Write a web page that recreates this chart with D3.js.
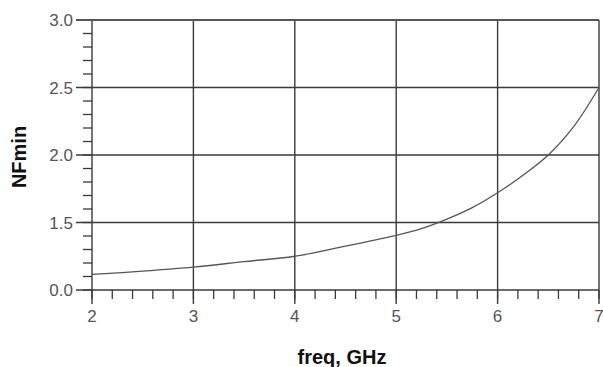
<!DOCTYPE html>
<html>
<head>
<meta charset="utf-8">
<script src="https://cdn.jsdelivr.net/npm/d3@7"></script>
<style>
  body { margin: 0; background: #fff; }
  text { font-family: "Liberation Sans", Arial, sans-serif; }
</style>
</head>
<body>
<div id="chart"></div>
<script>
// curve
var freq = [2, 2.5, 3, 3.5, 4, 4.5, 5, 5.25, 5.5, 5.75, 6, 6.25, 6.5, 6.75, 7];
var nfmin = [1.115, 1.14, 1.17, 1.21, 1.25, 1.325, 1.405, 1.455, 1.525, 1.61, 1.72, 1.85, 2.0, 2.21, 2.5];

var xTicks = [2, 3, 4, 5, 6, 7];
var yTicks = [1.0, 1.5, 2.0, 2.5, 3.0];
var yTickLabels = ["0.0", "1.5", "2.0", "2.5", "3.0"];

var width = 603;
var height = 367;
var margin = { top: 20, right: 4, bottom: 77, left: 92 };

var x = d3.scaleLinear()
    .domain([2, 7])
    .range([margin.left, width - margin.right]);

var y = d3.scaleLinear()
    .domain([1, 3])
    .range([height - margin.bottom, margin.top]);

var svg = d3.select("#chart").append("svg")
    .attr("width", width)
    .attr("height", height);

var gridColor = "#3a3a3a";

// minor ticks, 5 divisions per major step
var xMinor = d3.range(2, 7.001, 0.2);
var yMinor = d3.range(1, 3.001, 0.1);

svg.append("g")
    .selectAll("line")
    .data(xMinor)
    .join("line")
    .attr("x1", d => x(d))
    .attr("x2", d => x(d))
    .attr("y1", y(1))
    .attr("y2", y(1) + 9)
    .attr("stroke", gridColor)
    .attr("stroke-width", 1.3);

svg.append("g")
    .selectAll("line")
    .data(yMinor)
    .join("line")
    .attr("x1", x(2) - 9)
    .attr("x2", x(2))
    .attr("y1", d => y(d))
    .attr("y2", d => y(d))
    .attr("stroke", gridColor)
    .attr("stroke-width", 1.3);

// grid lines (extend past axes as major ticks)
svg.append("g")
    .selectAll("line")
    .data(xTicks)
    .join("line")
    .attr("x1", d => x(d))
    .attr("x2", d => x(d))
    .attr("y1", y(3))
    .attr("y2", y(1) + 14)
    .attr("stroke", gridColor)
    .attr("stroke-width", 1.4);

svg.append("g")
    .selectAll("line")
    .data(yTicks)
    .join("line")
    .attr("x1", x(2) - 16)
    .attr("x2", x(7))
    .attr("y1", d => y(d))
    .attr("y2", d => y(d))
    .attr("stroke", d => d == 3 ? "#555" : gridColor)
    .attr("stroke-width", d => d == 3 ? 2 : 1.4);

// tick labels
svg.append("g")
    .selectAll("text")
    .data(xTicks)
    .join("text")
    .attr("x", d => x(d))
    .attr("y", y(1) + 32)
    .attr("text-anchor", "middle")
    .attr("font-size", 17)
    .attr("fill", "#555")
    .text(d => d);

svg.append("g")
    .selectAll("text")
    .data(yTicks)
    .join("text")
    .attr("x", x(2) - 19)
    .attr("y", d => y(d) + 6)
    .attr("text-anchor", "end")
    .attr("font-size", 17)
    .attr("fill", "#555")
    .text((d, i) => yTickLabels[i]);

// curve
svg.append("path")
    .datum(freq.map((f, i) => ({ key: f, value: nfmin[i] })))
    .attr("fill", "none")
    .attr("stroke", "#555")
    .attr("stroke-width", 1.3)
    .attr("d", d3.line()
        .curve(d3.curveCatmullRom)
        .x(function (d) { return x(d.key) })
        .y(function (d) { return y(d.value) })
    );

// axis titles
svg.append("text")
    .attr("x", 342)
    .attr("y", 364)
    .attr("text-anchor", "middle")
    .attr("font-size", 20)
    .attr("font-weight", "bold")
    .attr("fill", "#111")
    .text("freq, GHz");

svg.append("text")
    .attr("transform", "translate(26,157) rotate(-90)")
    .attr("text-anchor", "middle")
    .attr("font-size", 20)
    .attr("font-weight", "bold")
    .attr("fill", "#111")
    .text("NFmin");
</script>
</body>
</html>
